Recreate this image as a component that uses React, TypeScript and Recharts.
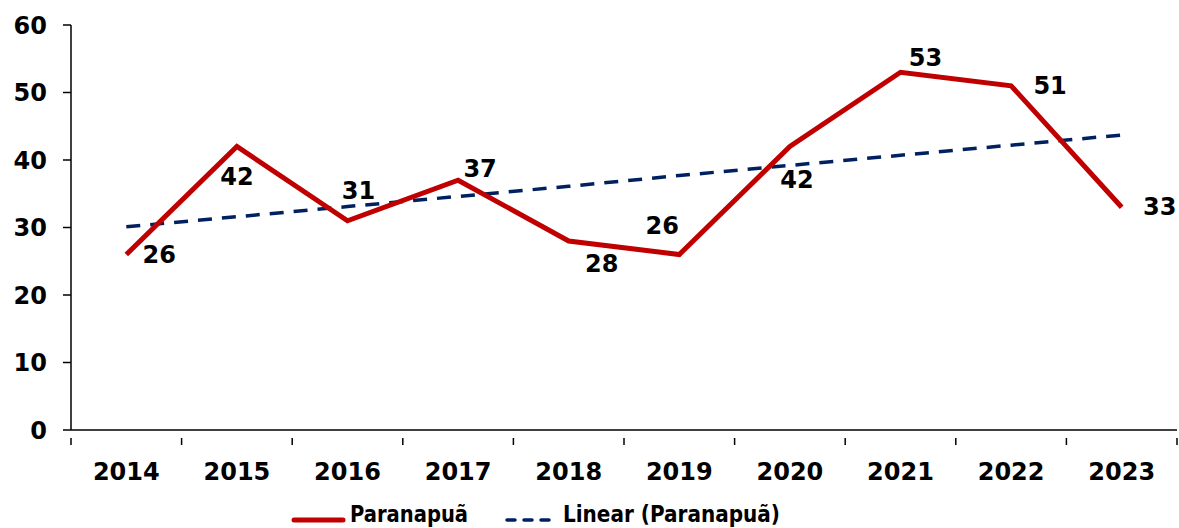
import React from 'react';
import { LineChart, Line, XAxis, YAxis, Legend, LabelList } from 'recharts';

const years = ['2014', '2015', '2016', '2017', '2018', '2019', '2020', '2021', '2022', '2023'];
const paranapua = [26, 42, 31, 37, 28, 26, 42, 53, 51, 33];
// linear trend
const trend = [30.1, 31.6, 33.1, 34.6, 36.1, 37.7, 39.2, 40.7, 42.2, 43.7];
const yTicks = [0, 10, 20, 30, 40, 50, 60];

const data = years.map((year, i) => ({ year, value: paranapua[i], trend: trend[i] }));

const RED = '#C00000';
const NAVY = '#002060';
const FONT = '"DejaVu Sans", Verdana, sans-serif';

const W = 1179;
const H = 528;
const PLOT_LEFT = 71;
const PLOT_RIGHT = 2;
const BAND = (W - PLOT_LEFT - PLOT_RIGHT) / years.length;

// where Excel dropped each data label, relative to its point
const labelOffsets: [number, number][] = [
  [33, 0], [0, 30], [11, -30], [22, -11], [33, 23],
  [-17, -29], [7, 33], [25, -14], [39, 0], [38, 0],
];

const DataLabel = (props: any) => {
  const { x, y, value, index } = props;
  const [dx, dy] = labelOffsets[index] || [0, -20];
  return (
    <text x={x + dx} y={y + dy} textAnchor="middle" dominantBaseline="central"
      fontFamily={FONT} fontWeight="bold" fontSize={24} fill="#000">
      {value}
    </text>
  );
};

const XTick = (props: any) => {
  const { x, y, payload, index } = props;
  const left = x - BAND / 2;
  return (
    <g>
      <line x1={left} y1={y} x2={left} y2={y + 7} stroke="#000" strokeWidth={1.5} />
      {index === years.length - 1 && (
        <line x1={left + BAND} y1={y} x2={left + BAND} y2={y + 7} stroke="#000" strokeWidth={1.5} />
      )}
      <text x={x} y={y + 42} textAnchor="middle" fontFamily={FONT} fontWeight="bold" fontSize={24} fill="#000">
        {payload.value}
      </text>
    </g>
  );
};

const LegendContent = () => (
  <svg width={W} height={38} style={{ display: 'block' }}>
    <line x1={294} y1={30} x2={343} y2={30} stroke={RED} strokeWidth={5} strokeLinecap="round" />
    <text x={350} y={32} textLength={118} lengthAdjust="spacingAndGlyphs"
      fontFamily={FONT} fontWeight="bold" fontSize={23} fill="#000">Paranapuã</text>
    <line x1={507} y1={30} x2={557} y2={30} stroke={NAVY} strokeWidth={3.5}
      strokeDasharray="8 9" strokeLinecap="round" />
    <text x={563} y={32} textLength={217} lengthAdjust="spacingAndGlyphs"
      fontFamily={FONT} fontWeight="bold" fontSize={23} fill="#000">Linear (Paranapuã)</text>
  </svg>
);

export default function App() {
  return (
    <div style={{ position: 'absolute', left: 0, top: 0, width: W, height: H, background: '#fff' }}>
      <style>{'body{margin:0}'}</style>
      <LineChart width={W} height={H} data={data} margin={{ top: 25, right: PLOT_RIGHT, bottom: 0, left: 0 }}>
        <XAxis dataKey="year" scale="band" tickLine={false} tick={<XTick />} height={60}
          axisLine={{ stroke: '#000', strokeWidth: 1.5 }} interval={0} />
        <YAxis domain={[0, 60]} ticks={yTicks} width={PLOT_LEFT} tickSize={8} tickMargin={16}
          axisLine={{ stroke: '#000', strokeWidth: 1.5 }} tickLine={{ stroke: '#000', strokeWidth: 1.5 }}
          tick={{ fontFamily: FONT, fontWeight: 'bold', fontSize: 24, fill: '#000' }} />
        <Legend verticalAlign="bottom" height={38} content={<LegendContent />} />
        <Line type="linear" dataKey="trend" stroke={NAVY} strokeWidth={3.5} strokeDasharray="14 10"
          dot={false} activeDot={false} isAnimationActive={false} />
        <Line type="linear" dataKey="value" stroke={RED} strokeWidth={5} dot={false} activeDot={false}
          isAnimationActive={false}>
          <LabelList dataKey="value" content={<DataLabel />} />
        </Line>
      </LineChart>
    </div>
  );
}
